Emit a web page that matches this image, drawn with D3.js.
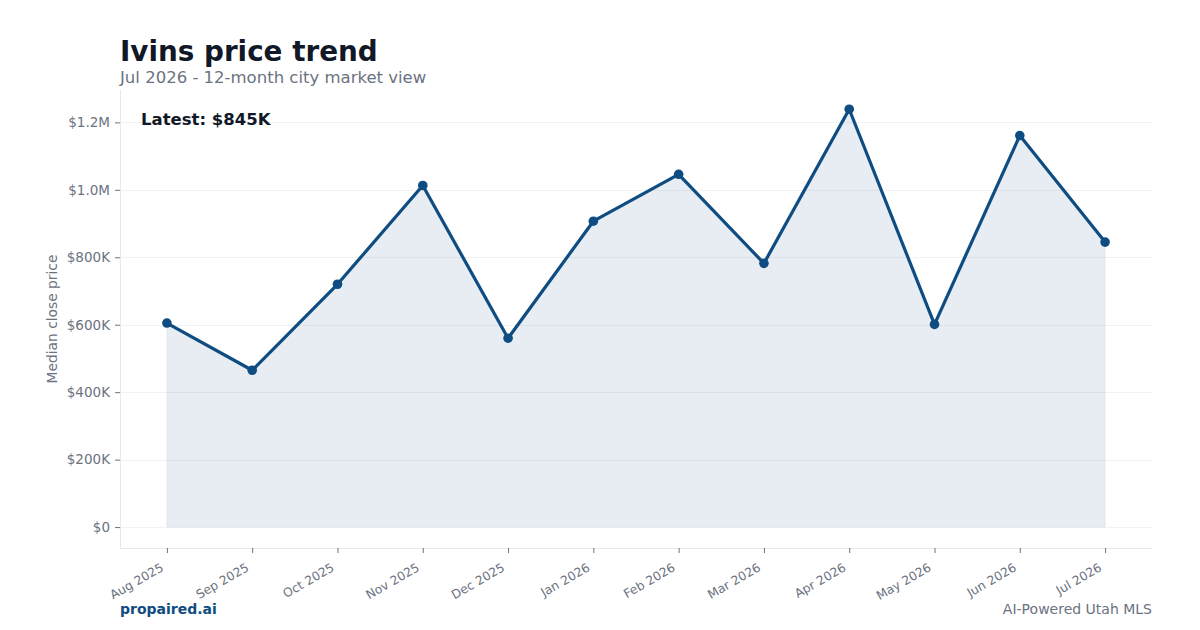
<!DOCTYPE html>
<html>
<head>
<meta charset="utf-8">
<script src="https://cdn.jsdelivr.net/npm/d3@7"></script>
<style>
  body { margin: 0; background: #fff; }
  svg { font-family: "DejaVu Sans", sans-serif; }
</style>
</head>
<body>
<script>
var w = 1200;
var h = 630;

var months = ["Aug 2025", "Sep 2025", "Oct 2025", "Nov 2025", "Dec 2025", "Jan 2026",
              "Feb 2026", "Mar 2026", "Apr 2026", "May 2026", "Jun 2026", "Jul 2026"];
var prices = [605000, 465000, 720000, 1013000, 560000, 907000,
              1046000, 782000, 1239000, 601000, 1161000, 845000];   // median close price
var yTicks = [0, 200000, 400000, 600000, 800000, 1000000, 1200000];
var yTickLabels = ["$0", "$200K", "$400K", "$600K", "$800K", "$1.0M", "$1.2M"];

var plotLeft = 120, plotRight = 1152, plotTop = 90, plotBottom = 548;
var lineColor = "#0f4c81";

var svg = d3.select("body")
            .append("svg")
            .attr("width", w)
            .attr("height", h);

var x = d3.scalePoint()
          .domain(months)
          .range([plotLeft, plotRight])
          .padding(0.55);

var y = d3.scaleLinear()
          .domain([-62000, 1296000])
          .range([plotBottom, plotTop]);

// gridlines
svg.append("g")
   .selectAll("line")
   .data(yTicks)
   .enter()
   .append("line")
   .attr("x1", plotLeft).attr("x2", plotRight)
   .attr("y1", function(d){ return Math.round(y(d)) + 0.5; })
   .attr("y2", function(d){ return Math.round(y(d)) + 0.5; })
   .attr("stroke", "#f1f2f4")
   .attr("stroke-width", 1);

// area + line
var area = d3.area()
             .x(function(d, i){ return x(months[i]); })
             .y0(y(0))
             .y1(function(d){ return y(d); });

var line = d3.line()
             .x(function(d, i){ return x(months[i]); })
             .y(function(d){ return y(d); });

svg.append("path")
   .attr("d", area(prices))
   .attr("fill", lineColor)
   .attr("fill-opacity", 0.1)
   .attr("stroke", lineColor)
   .attr("stroke-opacity", 0.06);

svg.append("path")
   .attr("d", line(prices))
   .attr("fill", "none")
   .attr("stroke", lineColor)
   .attr("stroke-width", 3.2)
   .attr("stroke-linejoin", "round");

svg.append("g")
   .selectAll("circle")
   .data(prices)
   .enter()
   .append("circle")
   .attr("cx", function(d, i){ return x(months[i]); })
   .attr("cy", function(d){ return y(d); })
   .attr("r", 4.8)
   .attr("fill", lineColor);

// axes
var yAxis = d3.axisLeft(y)
              .tickValues(yTicks)
              .tickFormat(function(d, i){ return yTickLabels[i]; })
              .tickSize(5)
              .tickPadding(5);

var gy = svg.append("g")
            .attr("transform", "translate(" + plotLeft + ",0)")
            .call(yAxis)
            .attr("font-family", null);

var xAxis = d3.axisBottom(x)
              .tickSize(5)
              .tickPadding(4);

var gx = svg.append("g")
            .attr("transform", "translate(0," + plotBottom + ")")
            .call(xAxis)
            .attr("font-family", null);

gy.select(".domain").attr("stroke", "#e5e7eb").attr("d", "M0.5," + plotTop + "V" + plotBottom);
gx.select(".domain").attr("stroke", "#e5e7eb").attr("d", "M" + plotLeft + ",0.5H" + plotRight);
gy.selectAll(".tick line").attr("stroke", "#6b7280");
gx.selectAll(".tick line").attr("stroke", "#6b7280");
gy.selectAll(".tick text")
  .attr("fill", "#6b7280")
  .style("font-size", "13.5px");
gx.selectAll(".tick text")
  .attr("fill", "#6b7280")
  .style("font-size", "12.3px")
  .attr("text-anchor", "end")
  .attr("y", 0)
  .attr("dy", 0)
  .attr("transform", "translate(-3,22) rotate(-30)");

// y label
svg.append("text")
   .attr("transform", "translate(57," + ((plotTop + plotBottom) / 2) + ") rotate(-90)")
   .attr("text-anchor", "middle")
   .attr("fill", "#6b7280")
   .style("font-size", "13.8px")
   .text("Median close price");

// titles
svg.append("text")
   .attr("x", 120).attr("y", 61)
   .attr("fill", "#111827")
   .style("font-size", "27.8px")
   .style("font-weight", "bold")
   .text("Ivins price trend");

svg.append("text")
   .attr("x", 120).attr("y", 83)
   .attr("fill", "#6b7280")
   .style("font-size", "16.5px")
   .text("Jul 2026 - 12-month city market view");

svg.append("text")
   .attr("x", 141).attr("y", 125)
   .attr("fill", "#111827")
   .style("font-size", "16.5px")
   .style("font-weight", "bold")
   .text("Latest: $" + d3.format(".0f")(prices[prices.length - 1] / 1000) + "K");

// footer
svg.append("text")
   .attr("x", 120).attr("y", 614)
   .attr("fill", lineColor)
   .style("font-size", "14px")
   .style("font-weight", "bold")
   .text("propaired.ai");

svg.append("text")
   .attr("x", 1152).attr("y", 614)
   .attr("text-anchor", "end")
   .attr("fill", "#6b7280")
   .style("font-size", "14px")
   .text("AI-Powered Utah MLS");
</script>
</body>
</html>
